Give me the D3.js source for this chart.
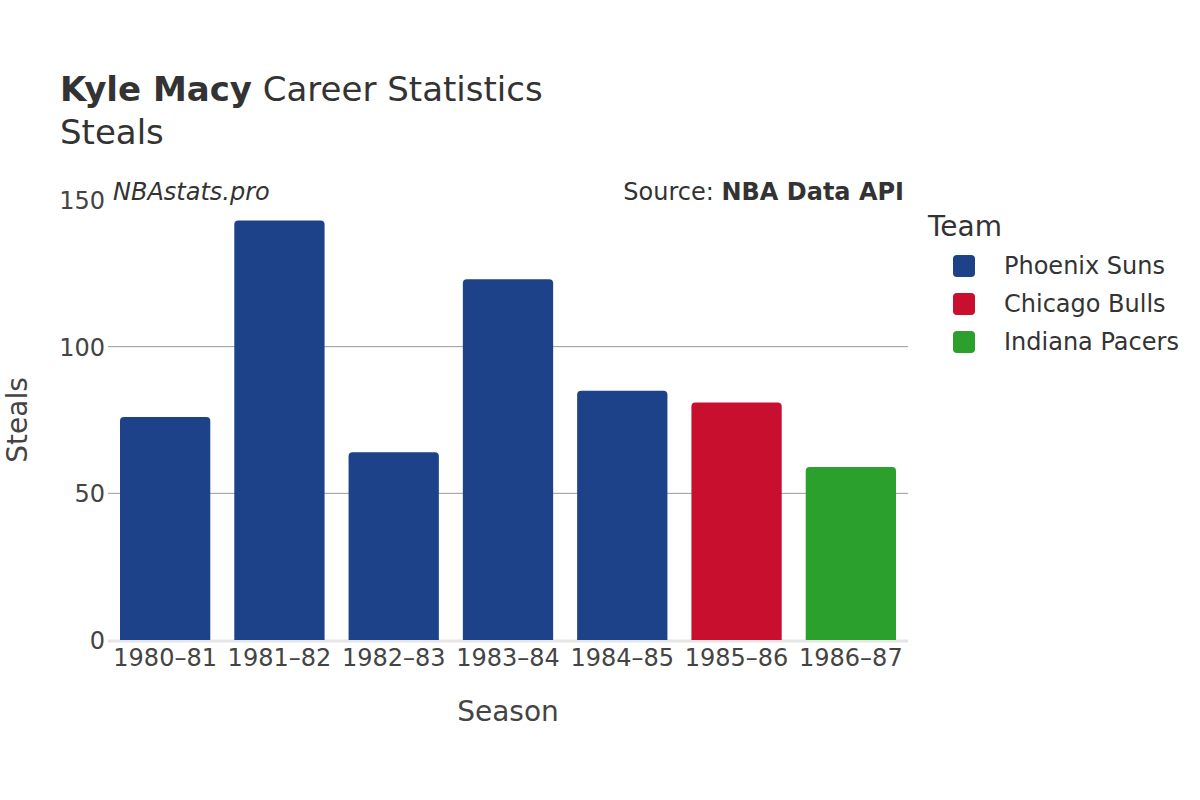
<!DOCTYPE html>
<html>
<head>
<meta charset="utf-8">
<script src="https://cdn.jsdelivr.net/npm/d3@7"></script>
<style>
  body { margin: 0; background: #fff; }
  svg { font-family: "DejaVu Sans", sans-serif; }
</style>
</head>
<body>
<div id="chart"></div>
<script>
// data
const seasons = ["1980–81", "1981–82", "1982–83", "1983–84", "1984–85", "1985–86", "1986–87"];
const steals = [76, 143, 64, 123, 85, 81, 59];
const seasonTeams = ["Phoenix Suns", "Phoenix Suns", "Phoenix Suns", "Phoenix Suns", "Phoenix Suns", "Chicago Bulls", "Indiana Pacers"];
const teams = ["Phoenix Suns", "Chicago Bulls", "Indiana Pacers"];
const teamColors = ["#1d428a", "#c8102e", "#2ca02c"];
const yTicks = [0, 50, 100, 150];

const width = 1200, height = 800;
const margin = {top: 200, right: 292, bottom: 160, left: 108};

const svg = d3.select("#chart").append("svg")
    .attr("width", width)
    .attr("height", height);

const x = d3.scaleBand()
    .domain(seasons)
    .range([margin.left, width - margin.right])
    .paddingInner(0.21)
    .paddingOuter(0.105);

const y = d3.scaleLinear()
    .domain([0, 150])
    .range([height - margin.bottom, margin.top]);

const color = d3.scaleOrdinal().domain(teams).range(teamColors);

// gridlines
svg.append("g")
    .selectAll("line")
    .data(yTicks.filter(d => d > 0 && d < 150))
    .enter().append("line")
    .attr("x1", margin.left)
    .attr("x2", width - margin.right)
    .attr("y1", d => y(d))
    .attr("y2", d => y(d))
    .attr("stroke", "#999")
    .attr("stroke-width", 1);

// zero line
svg.append("line")
    .attr("x1", margin.left)
    .attr("x2", width - margin.right)
    .attr("y1", y(0) + 1)
    .attr("y2", y(0) + 1)
    .attr("stroke", "#e5e5e5")
    .attr("stroke-width", 3);

// bars
const r = 4;
svg.append("g")
    .selectAll("path")
    .data(seasons.map((s, i) => ({season: s, value: steals[i], team: seasonTeams[i]})))
    .enter().append("path")
    .attr("fill", d => color(d.team))
    .attr("d", d => {
        const x0 = x(d.season), w = x.bandwidth();
        const y0 = y(d.value), y1 = y(0);
        return `M${x0},${y1}V${y0 + r}Q${x0},${y0} ${x0 + r},${y0}H${x0 + w - r}Q${x0 + w},${y0} ${x0 + w},${y0 + r}V${y1}Z`;
    });

// y axis
const yAxis = svg.append("g")
    .attr("transform", `translate(${margin.left},0)`)
    .call(d3.axisLeft(y).tickValues(yTicks).tickSize(0).tickPadding(3));
yAxis.select(".domain").remove();
yAxis.selectAll("text")
    .attr("font-size", 24)
    .attr("font-family", "DejaVu Sans, sans-serif")
    .attr("fill", "#444")
    .attr("dy", "0.35em");

// x axis
const xAxis = svg.append("g")
    .attr("transform", `translate(0,${y(0)})`)
    .call(d3.axisBottom(x).tickSize(0).tickPadding(9));
xAxis.select(".domain").remove();
xAxis.selectAll("text")
    .attr("font-size", 24)
    .attr("font-family", "DejaVu Sans, sans-serif")
    .attr("fill", "#444")
    .attr("dy", "0.71em");

// axis titles
svg.append("text")
    .attr("x", (margin.left + width - margin.right) / 2)
    .attr("y", 721)
    .attr("text-anchor", "middle")
    .attr("font-size", 28)
    .attr("fill", "#444")
    .text("Season");

svg.append("text")
    .attr("transform", `translate(27,${(margin.top + height - margin.bottom) / 2}) rotate(-90)`)
    .attr("text-anchor", "middle")
    .attr("font-size", 28)
    .attr("fill", "#444")
    .text("Steals");

// title
const title = svg.append("text")
    .attr("x", 60)
    .attr("y", 101)
    .attr("font-size", 34)
    .attr("fill", "#333");
title.append("tspan").attr("font-weight", "bold").text("Kyle Macy");
title.append("tspan").text(" Career Statistics");

svg.append("text")
    .attr("x", 60)
    .attr("y", 144)
    .attr("font-size", 34)
    .attr("fill", "#333")
    .text("Steals");

// watermark + source
svg.append("text")
    .attr("x", 113)
    .attr("y", 200)
    .attr("font-size", 24)
    .attr("font-style", "italic")
    .attr("fill", "#333")
    .text("NBAstats.pro");

const src = svg.append("text")
    .attr("x", 904)
    .attr("y", 200)
    .attr("text-anchor", "end")
    .attr("font-size", 24)
    .attr("fill", "#333");
src.append("tspan").text("Source: ");
src.append("tspan").attr("font-weight", "bold").text("NBA Data API");

// legend
const legend = svg.append("g").attr("transform", "translate(928,0)");
legend.append("text")
    .attr("x", 0)
    .attr("y", 236)
    .attr("font-size", 28)
    .attr("fill", "#333")
    .text("Team");

const item = legend.selectAll("g.item")
    .data(teams)
    .enter().append("g")
    .attr("class", "item")
    .attr("transform", (d, i) => `translate(0,${266 + i * 38})`);

item.append("rect")
    .attr("x", 25)
    .attr("y", -11)
    .attr("width", 22)
    .attr("height", 22)
    .attr("rx", 4)
    .attr("fill", d => color(d));

item.append("text")
    .attr("x", 76)
    .attr("y", 0)
    .attr("dy", "0.35em")
    .attr("font-size", 24)
    .attr("fill", "#333")
    .text(d => d);
</script>
</body>
</html>
